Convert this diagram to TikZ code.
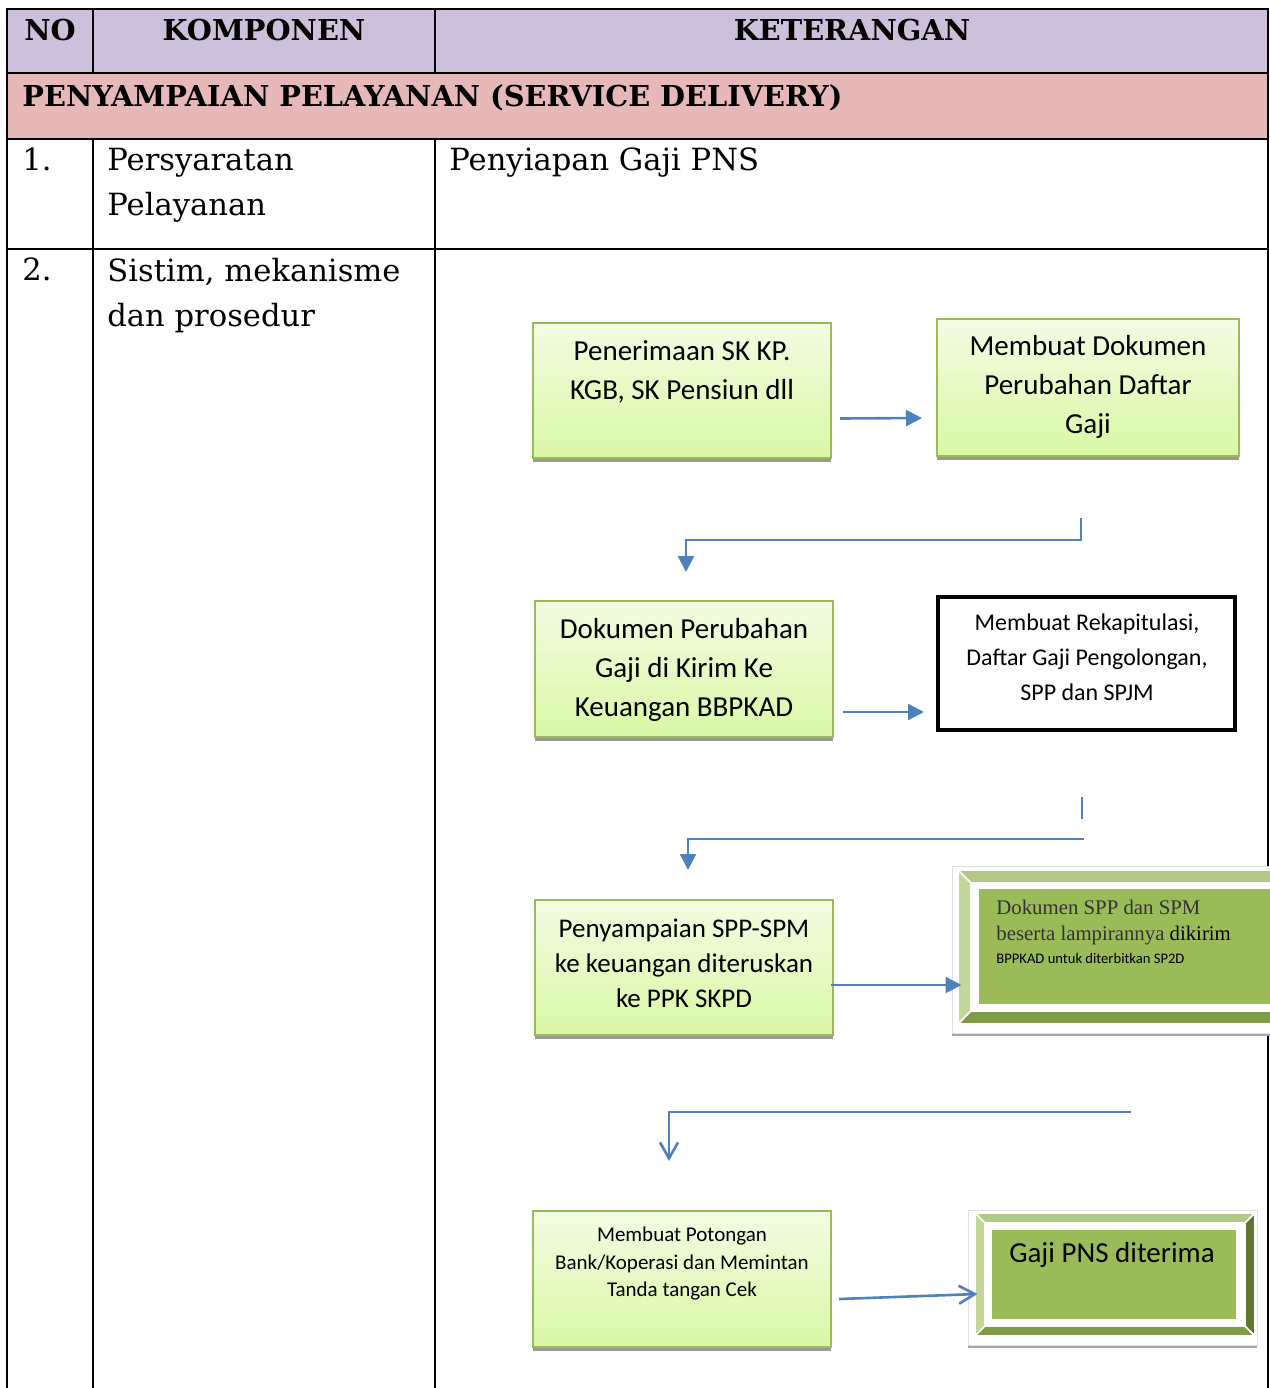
\documentclass[tikz,border=0pt]{standalone}
\usepackage{fontspec}
\setmainfont{DejaVu Serif}
\newfontfamily\calibri{Carlito}
\newfontfamily\cambria{Liberation Serif}
\usetikzlibrary{arrows.meta,positioning,shadows}

\definecolor{hdrlilac}{HTML}{CCC0DA}
\definecolor{secpink}{HTML}{E6B8B7}
\definecolor{flowblue}{HTML}{4F81BD}
\definecolor{boxline}{HTML}{9BBB59}
\definecolor{boxtop}{HTML}{F3FCE2}
\definecolor{boxbot}{HTML}{D9F8A5}
\definecolor{bvtop}{HTML}{B1C985}
\definecolor{bvleft}{HTML}{C4D79B}
\definecolor{bvbot}{HTML}{7F9B47}
\definecolor{bvright}{HTML}{5E7530}
\definecolor{bvface}{HTML}{9BBB59}

\tikzset{
  tblline/.style={line width=1.3pt},
  hdrtext/.style={font=\fontsize{14.4}{18}\selectfont\bfseries, inner sep=0},
  celltext/.style={font=\fontsize{15.3}{22.5}\selectfont, inner sep=0, align=left},
  flowbox/.style={draw=boxline, line width=1pt, top color=boxtop, bottom color=boxbot,
    minimum width=149pt, minimum height=67.5pt,
    drop shadow={shadow xshift=0pt, shadow yshift=-2pt, opacity=1, fill=black!40}},
  boxtxt/.style={font=\calibri\fontsize{14.5}{19.5}\selectfont, align=center, inner sep=0},
  bevelframe/.style={fill=white, draw=black!12, line width=0.5pt,
    drop shadow={shadow xshift=0pt, shadow yshift=-1.5pt, opacity=1, fill=black!35}},
  band/.style={draw=white, line width=0.8pt},
  flowline/.style={draw=flowblue, line width=1.3pt},
  flowarrow/.style={flowline, -{Triangle[length=8pt,width=8pt]}},
  openarrow/.style={flowline, -{Straight Barb[length=8pt,width=9pt]}}
}

\begin{document}
\begin{tikzpicture}[x=0.5pt, y=-0.5pt, >=latex]
  \clip (0,0) rectangle (1270,1388);
  % tabel
  \fill[hdrlilac] (7,9) rectangle (1268,73);
  \fill[secpink] (7,73) rectangle (1268,139);
  \draw[tblline] (7,1388) -- (7,9) -- (1268,9) -- (1268,1388);
  \draw[tblline] (7,73) -- (1268,73) (7,139) -- (1268,139) (7,249) -- (1268,249);
  \draw[tblline] (93,9) -- (93,73) (435,9) -- (435,73);
  \draw[tblline] (93,139) -- (93,1388) (435,139) -- (435,1388);

  \node[hdrtext, anchor=base] (hno) at (50,40) {NO};
  \node[hdrtext, anchor=base] (hkomp) at (264,40) {KOMPONEN};
  \node[hdrtext, anchor=base] (hket) at (852,40) {KETERANGAN};
  \node[hdrtext, anchor=base west] (sec) at (22,106) {PENYAMPAIAN PELAYANAN (SERVICE DELIVERY)};

  \node[celltext, anchor=base west] (n1) at (22,170) {1.};
  \node[celltext, anchor=north west] (k1) at (107,148) {Persyaratan\\Pelayanan};
  \node[celltext, anchor=base west] (d1) at (449,170) {Penyiapan Gaji PNS};
  \node[celltext, anchor=base west] (n2) at (22,280) {2.};
  \node[celltext, anchor=north west] (k2) at (107,258) {Sistim, mekanisme\\dan prosedur};

  % alur
  \node[flowbox] (b1) at (682,390.5) {};
  \node[boxtxt] (t1) at (682,371.5) {Penerimaan SK KP.\\KGB, SK Pensiun dll};
  \node[flowbox, minimum width=151pt, minimum height=68.5pt] (b2) at (1088,387.5) {};
  \node[boxtxt] (t2) at (1088,387) {Membuat Dokumen\\Perubahan Daftar\\Gaji};
  \node[flowbox, minimum height=68pt] (b3) at (684,669) {};
  \node[boxtxt] (t3) at (684,670) {Dokumen Perubahan\\Gaji di Kirim Ke\\Keuangan BBPKAD};
  \node[draw, line width=2pt, fill=white, minimum width=148.5pt, minimum height=66.5pt] (b4) at (1086.5,663.5) {};
  \node[boxtxt, font=\calibri\fontsize{12}{17.5}\selectfont] (t4) at (1087,657.5)
    {Membuat Rekapitulasi,\\Daftar Gaji Pengolongan,\\SPP dan SPJM};
  \node[flowbox] (b5) at (684,967.5) {};
  \node[boxtxt, font=\calibri\fontsize{13.5}{17.5}\selectfont] (t5) at (684,963)
    {Penyampaian SPP-SPM\\ke keuangan diteruskan\\ke PPK SKPD};
  \node[flowbox, minimum height=68pt] (b7) at (682,1279) {};
  \node[boxtxt, font=\calibri\fontsize{10.5}{13.8}\selectfont] (t7) at (682,1263.5)
    {Membuat Potongan\\Bank/Koperasi dan Memintan\\Tanda tangan Cek};

  % kotak bevel
  \node[bevelframe, minimum width=174pt, minimum height=83.5pt] (f6) at (1126,949.5) {};
  \filldraw[band, fill=bvtop] (958,870) -- (1300,870) -- (1287,883) -- (971,883) -- cycle;
  \filldraw[band, fill=bvleft] (958,870) -- (971,883) -- (971,1011) -- (958,1024) -- cycle;
  \filldraw[band, fill=bvbot] (958,1024) -- (971,1011) -- (1287,1011) -- (1300,1024) -- cycle;
  \fill[bvface] (979,889) rectangle (1280,1004);
  \node[anchor=west, align=left, inner sep=0, font=\cambria\fontsize{10.4}{13}\selectfont] (t6) at (996,932)
    {\cambria\fontsize{10.4}{13}\selectfont\color{black!80}Dokumen SPP dan SPM\\
     \cambria\fontsize{10.4}{13}\selectfont\color{black!80}beserta lampirannya \textcolor{black}{dikirim}\\[-1.5pt]
     \calibri\fontsize{7.3}{11}\selectfont BPPKAD untuk diterbitkan SP2D};

  \node[bevelframe, minimum width=144.5pt, minimum height=67.5pt] (f8) at (1112.5,1277.5) {};
  \filldraw[band, fill=bvtop] (975,1213) -- (1255,1213) -- (1245,1223) -- (985,1223) -- cycle;
  \filldraw[band, fill=bvleft] (975,1213) -- (985,1223) -- (985,1326) -- (975,1336) -- cycle;
  \filldraw[band, fill=bvbot] (975,1336) -- (985,1326) -- (1245,1326) -- (1255,1336) -- cycle;
  \filldraw[band, fill=bvright] (1255,1213) -- (1245,1223) -- (1245,1326) -- (1255,1336) -- cycle;
  \fill[bvface] (992,1230) rectangle (1236,1319);
  \node[boxtxt] (t8) at (1112,1255) {Gaji PNS diterima};

  % panah
  \draw[flowarrow] ([xshift=4pt,yshift=-14pt]b1.east) -- ([xshift=-7pt,yshift=-15.25pt]b2.west);
  \draw[flowarrow] ([xshift=4.5pt,yshift=-21.5pt]b3.east) -- ([xshift=-6pt,yshift=-24.25pt]b4.west);
  \draw[flowarrow] ([xshift=-1.5pt,yshift=-8.75pt]b5.east) -- ([xshift=5pt,yshift=-17.75pt]f6.west);
  \draw[openarrow] ([xshift=3.5pt,yshift=-10pt]b7.east) -- ([xshift=5pt,yshift=-8.25pt]f8.west);

  \coordinate (e1a) at (1081,518);
  \coordinate (e1b) at (686,540);
  \coordinate (e1c) at (686,572);
  \draw[flowarrow] (e1a) |- (e1b) -- (e1c);

  \coordinate (e2a) at (1082,797);
  \coordinate (e2b) at (1082,819);
  \coordinate (e2c) at (1084,839);
  \coordinate (e2d) at (688,839);
  \coordinate (e2e) at (688,870);
  \draw[flowline, line width=1pt] (e2a) -- (e2b);
  \draw[flowarrow] (e2c) -- (e2d) -- (e2e);

  \coordinate (e3a) at (1131,1112);
  \coordinate (e3b) at (669,1112);
  \coordinate (e3c) at (669,1161);
  \draw[openarrow] (e3a) -- (e3b) -- (e3c);
\end{tikzpicture}
\end{document}
